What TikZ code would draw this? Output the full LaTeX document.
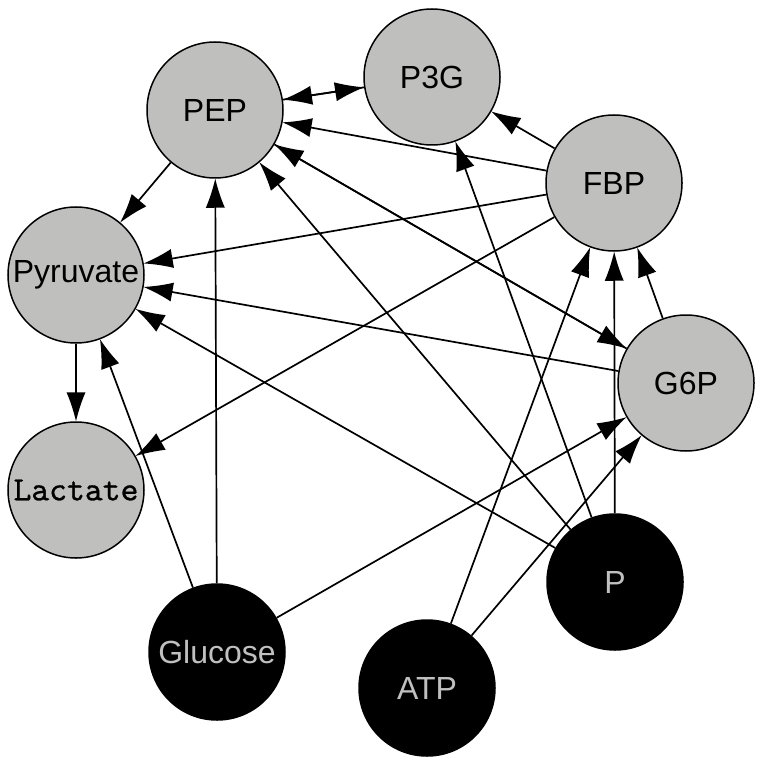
\documentclass[tikz,border=0pt]{standalone}
\usepackage{fontspec}
\setmainfont{Liberation Sans}
\newfontfamily\lacfont[FakeBold=0.9]{lmmono10-regular.otf}
\usetikzlibrary{arrows.meta}
\definecolor{nodegray}{RGB}{191,192,189}
\definecolor{txtgray}{RGB}{192,192,192}
\pgfdeclarearrow{
  name = GvTip,
  parameters = {\the\pgfarrowlength,\the\pgfarrowwidth},
  setup code = {
    \pgfarrowssettipend{0pt}
    \pgfarrowssetlineend{-0.6\pgfarrowlength}
    \pgfarrowssetbackend{-\pgfarrowlength}
    \pgfarrowssetvisualbackend{-\pgfarrowlength}
    \pgfarrowsupperhullpoint{-\pgfarrowlength}{0.5\pgfarrowwidth}
    \pgfarrowssavethe\pgfarrowlength
    \pgfarrowssavethe\pgfarrowwidth
  },
  drawing code = {
    \pgfpathmoveto{\pgfqpoint{0pt}{0pt}}
    \pgfpathquadraticcurveto{\pgfqpoint{-0.55\pgfarrowlength}{0.2\pgfarrowwidth}}{\pgfqpoint{-\pgfarrowlength}{0.5\pgfarrowwidth}}
    \pgfpathlineto{\pgfqpoint{-\pgfarrowlength}{-0.5\pgfarrowwidth}}
    \pgfpathquadraticcurveto{\pgfqpoint{-0.55\pgfarrowlength}{-0.2\pgfarrowwidth}}{\pgfqpoint{0pt}{0pt}}
    \pgfpathclose
    \pgfusepathqfill
  },
  defaults = {length = 30pt, width = 19pt}
}
\begin{document}
\begin{tikzpicture}[x=1pt,y=-1pt,
  gnode/.style={circle,draw=black,line width=1.5pt,fill=nodegray,minimum size=136pt,inner sep=0pt,font=\fontsize{32}{32}\selectfont},
  bnode/.style={circle,draw=black,line width=1.5pt,fill=black,minimum size=136pt,inner sep=0pt,text=txtgray,font=\fontsize{32}{32}\selectfont},
  edge/.style={line width=1.7pt,-{GvTip[length=29pt,width=19pt]}}]
\useasboundingbox (0,0) rectangle (767,767);
\node[gnode] (PEP) at (215,110) {PEP};
\node[gnode] (P3G) at (432,77) {P3G};
\node[gnode] (FBP) at (614,183) {FBP};
\node[gnode] (Pyr) at (76,275) {Pyruvate};
\node[gnode] (G6P) at (686,383) {G6P};
\node[gnode,font=\lacfont\fontsize{34}{34}\selectfont] (Lac) at (76,490) {Lactate};
\node[bnode] (Glu) at (217,652) {Glucose};
\node[bnode] (ATP) at (427,688) {ATP};
\node[bnode] (P) at (615,582) {P};
\draw[edge] (P3G) -- (PEP);
\draw[edge] (PEP) -- (P3G);
\draw[edge] (FBP) -- (P3G);
\draw[edge] (FBP) -- (PEP);
\draw[edge] (FBP) -- (Pyr);
\draw[edge] (FBP) -- (Lac);
\draw[edge] (PEP) -- (Pyr);
\draw[edge] (PEP) -- (G6P);
\draw[edge] (G6P) -- (PEP);
\draw[edge] (G6P) -- (Pyr);
\draw[edge] (G6P) -- (FBP);
\draw[edge] (P) -- (FBP);
\draw[edge] (P) -- (PEP);
\draw[edge] (P) -- (Pyr);
\draw[edge] (P) -- (P3G);
\draw[edge] (ATP) -- (FBP);
\draw[edge] (ATP) -- (G6P);
\draw[edge] (Glu) -- (G6P);
\draw[edge] (Glu) -- (PEP);
\draw[edge] (Glu) -- (Pyr);
\draw[edge] (Pyr) -- (Lac);
\end{tikzpicture}
\end{document}
